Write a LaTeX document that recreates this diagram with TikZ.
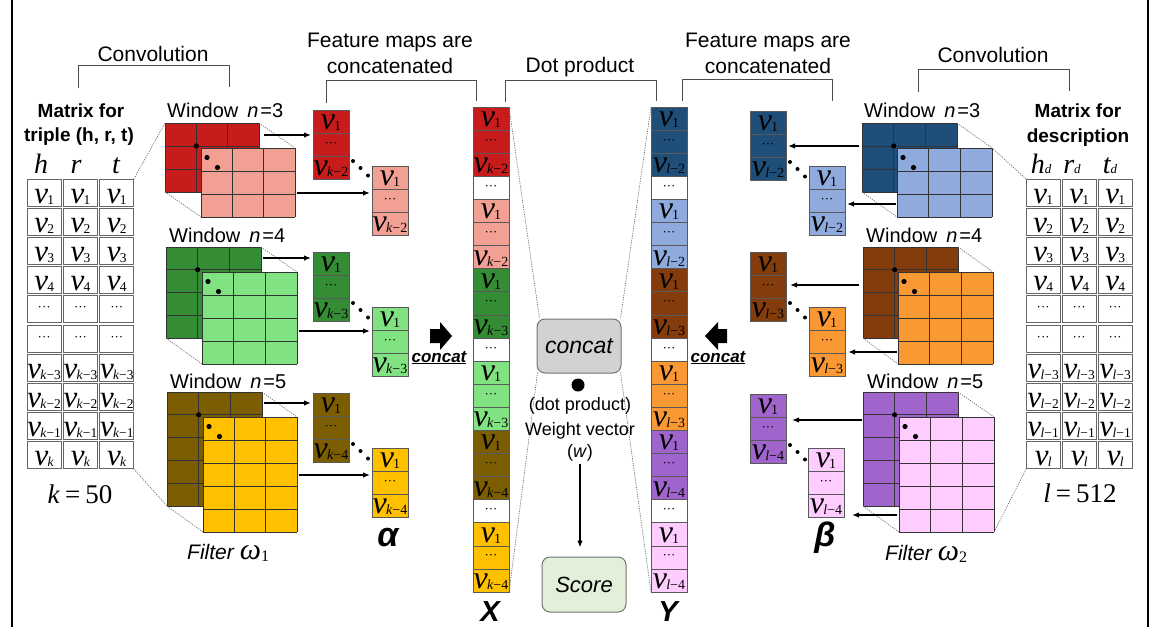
\documentclass[tikz,border=0pt]{standalone}
\usepackage{fontspec}
\setmainfont{Liberation Sans}
\newfontfamily\tnr{Liberation Serif}
\usetikzlibrary{arrows.meta,calc}
\definecolor{cRed}{RGB}{200,28,28}
\definecolor{cSalmon}{RGB}{242,160,148}
\definecolor{cGreen}{RGB}{52,140,52}
\definecolor{cLGreen}{RGB}{128,226,128}
\definecolor{cOlive}{RGB}{124,94,0}
\definecolor{cYellow}{RGB}{255,192,0}
\definecolor{cNavy}{RGB}{31,78,121}
\definecolor{cLBlue}{RGB}{143,170,220}
\definecolor{cBrown}{RGB}{132,60,12}
\definecolor{cOrange}{RGB}{250,152,52}
\definecolor{cPurple}{RGB}{160,100,205}
\definecolor{cPink}{RGB}{255,204,255}
\definecolor{cConcat}{RGB}{210,210,210}
\definecolor{cScore}{RGB}{226,240,217}
\newcommand{\vv}[1]{v\kern-0.8pt{\fontsize{14}{14}\selectfont\upshape\raisebox{-1pt}{#1}}}
\newcommand{\tv}[1]{v\kern-0.8pt{\fontsize{13.5}{13.5}\selectfont\upshape\raisebox{-1pt}{#1}}}
\tikzset{
  lbl/.style={font=\fontsize{21}{25}\selectfont, inner sep=0pt, anchor=base},
  blbl/.style={font=\bfseries\fontsize{19}{23}\selectfont, inner sep=0pt, anchor=base},
  wlbl/.style={font=\fontsize{20}{22}\selectfont, inner sep=0pt, anchor=base west},
  brk/.style={draw=black!70, line width=1pt},
  dotl/.style={draw=black!55, line width=0.7pt, dash pattern=on 1.2pt off 1.2pt},
  arr/.style={line width=1.3pt, -{Latex[length=7pt,width=5.5pt]}},
  gl/.style={draw=black!80, line width=0.8pt},
  wbox/.style={draw=none, inner sep=0pt, outer sep=0pt, anchor=north west},
  fcell/.style={draw=black!65, line width=0.8pt, minimum width=36pt, minimum height=23pt, inner sep=0pt, outer sep=0pt, anchor=north west},
  vtxt/.style={font=\tnr\itshape\fontsize{32}{32}\selectfont, inner sep=0pt, text height=16pt, text depth=0pt},
  tvtxt/.style={font=\tnr\itshape\fontsize{31}{31}\selectfont, inner sep=0pt, text height=21pt, text depth=0pt},
  dtxt/.style={font=\tnr\fontsize{13}{13}\selectfont, inner sep=0pt},
  tcell/.style={draw=black!60, line width=1pt, minimum width=34pt, minimum height=27pt, inner sep=0pt, outer sep=0pt},
  hdr/.style={font=\tnr\itshape\fontsize{28}{28}\selectfont, inner sep=0pt, anchor=base},
  rbox/.style={rounded corners=8pt, line width=1pt, minimum width=84pt, inner sep=0pt},
}
\newcommand{\win}[8]{%
  \node[wbox,fill=#8,minimum width={#4*#6},minimum height={#5*#7}] (#1) at (#2,#3) {};
  \foreach \i in {0,...,#4} \draw[gl] ({#2+\i*#6},#3) -- ({#2+\i*#6},{#3+#5*#7});
  \foreach \j in {0,...,#5} \draw[gl] (#2,{#3+\j*#7}) -- ({#2+#4*#6},{#3+\j*#7});
}
\newcommand{\wdot}[4]{\fill ({#1+#3},{#2+#4}) circle[radius=2.6pt];}
\newcommand{\fmap}[5]{%
  \node[fcell,fill=#4] (#1-1) at (#2,#3) {};
  \node[fcell,fill=#4] (#1-2) at (#2,{#3+23}) {};
  \node[fcell,fill=#4] (#1-3) at (#2,{#3+46}) {};
  \node[vtxt] (#1-t1) at (#1-1) {\vv{1}};
  \node[dtxt] (#1-t2) at (#1-2) {···};
  \node[vtxt] (#1-t3) at (#1-3) {\vv{#5}};
}
\newcommand{\fdots}[2]{%
  \fill ({#1+4},{#2-18}) circle[radius=2pt];
  \fill ({#1+11.5},{#2-11}) circle[radius=2pt];
  \fill ({#1+19},{#2-3.5}) circle[radius=2pt];
}
\begin{document}
\begin{tikzpicture}[x=1pt,y=-1pt]
\useasboundingbox (0,0) rectangle (1155,626);
\fill[white] (0,0) rectangle (1155,626);
% frame
\draw[line width=1.6pt] (12,-2) -- (12,628);
\draw[line width=1.6pt] (1148,-2) -- (1148,628);

% ---------- top labels and brackets ----------
\node[lbl] (convL) at (153,61) {Convolution};
\node[lbl] (convR) at (993,63) {Convolution};
\draw[brk] (78,88) -- (78,65) -- (229,65) -- (229,87);
\draw[brk] (918,92) -- (918,69) -- (1069,69) -- (1069,91);
\node[lbl] (fmL1) at (390,48) {Feature maps are};
\node[lbl] (fmL2) at (390,73) {concatenated};
\node[lbl] (fmR1) at (768,48) {Feature maps are};
\node[lbl] (fmR2) at (768,73) {concatenated};
\draw[brk] (326,103) -- (326,80) -- (476,80) -- (476,101);
\draw[brk] (682,101) -- (682,79) -- (832,79) -- (832,101);
\node[lbl] (dotp) at (580,72) {Dot product};
\draw[brk] (505,102) -- (505,80) -- (656,80) -- (656,101);

% ---------- left matrix ----------
\node[blbl] (mL1) at (81,117) {Matrix for};
\node[blbl] (mL2) at (79,141) {triple (h, r, t)};
\node[hdr] (hh) at (41,173) {h};
\node[hdr] (hr) at (76,173) {r};
\node[hdr] (ht) at (116,173) {t};
\foreach \kind/\lab [count=\r from 0] in {v/1,v/2,v/3,v/4,d/x,d/x,v/\textit{k}−3,v/\textit{k}−2,v/\textit{k}−1,v/\textit{k}}{
  \foreach \c in {0,1,2}{
    \node[tcell] (L\r-\c) at ({44.2+\c*36.3},{192.6+\r*29.2}) {};
    \if v\kind \node[tvtxt] (Lt\r-\c) at (L\r-\c) {\tv{\lab}};\else \node[dtxt] (Lt\r-\c) at (L\r-\c) {···};\fi
  }
}
\node[font=\tnr\fontsize{27}{27}\selectfont, anchor=base, inner sep=0pt] (kval) at (80,503) {\textit{k}\hspace{5pt}=\hspace{5pt}50};

% ---------- right matrix ----------
\node[blbl] (mR1) at (1078,117) {Matrix for};
\node[blbl] (mR2) at (1078,142) {description};
\node[hdr] (hhd) at (1041,173) {h{\fontsize{13}{13}\selectfont d}};
\node[hdr] (hrd) at (1072,173) {r{\fontsize{13}{13}\selectfont d}};
\node[hdr] (htd) at (1110,173) {t{\fontsize{13}{13}\selectfont d}};
\foreach \kind/\lab [count=\r from 0] in {v/1,v/2,v/3,v/4,d/x,d/x,v/\textit{l}−3,v/\textit{l}−2,v/\textit{l}−1,v/\textit{l}}{
  \foreach \c in {0,1,2}{
    \node[tcell] (R\r-\c) at ({1043.2+\c*36},{192.6+\r*29.2}) {};
    \if v\kind \node[tvtxt] (Rt\r-\c) at (R\r-\c) {\tv{\lab}};\else \node[dtxt] (Rt\r-\c) at (R\r-\c) {···};\fi
  }
}
\node[font=\tnr\fontsize{27}{27}\selectfont, anchor=base, inner sep=0pt] (lval) at (1080,502) {\textit{l}\hspace{5pt}=\hspace{5pt}512};

% ---------- left windows ----------
\node[wlbl] (wt3) at (167,117) {Window\hspace{9pt}\textit{n}\hspace{2pt}=3};
\win{wd3}{165}{123}{3}{3}{31.33}{23}{cRed}
\wdot{165}{123}{31.33}{23}
\win{wl3}{201}{148}{3}{3}{31.33}{23}{cSalmon}
\wdot{201}{148}{6}{9.5}\wdot{201}{148}{16.5}{19.5}

\node[wlbl] (wt4) at (169,242) {Window\hspace{9pt}\textit{n}\hspace{2pt}=4};
\win{wd4}{166}{247}{3}{4}{31.67}{22.75}{cGreen}
\wdot{166}{247}{31.67}{22.75}
\win{wl4}{202}{272}{3}{4}{31.67}{23}{cLGreen}
\wdot{202}{272}{6}{9.5}\wdot{202}{272}{16.5}{19.5}

\node[wlbl] (wt5) at (170,388) {Window\hspace{9pt}\textit{n}\hspace{2pt}=5};
\win{wd5}{167}{392}{3}{5}{31.67}{22.8}{cOlive}
\wdot{167}{392}{31.67}{22.8}
\win{wl5}{203}{417}{3}{5}{31.33}{23}{cYellow}
\wdot{203}{417}{6}{9.5}\wdot{203}{417}{16.5}{19.5}

% ---------- right windows ----------
\node[wlbl] (wt3r) at (864,117) {Window\hspace{9pt}\textit{n}\hspace{2pt}=3};
\win{wd3r}{862}{123}{3}{3}{31.67}{23}{cNavy}
\wdot{862}{123}{31.67}{23}
\win{wl3r}{897}{148}{3}{3}{31.67}{23}{cLBlue}
\wdot{897}{148}{6}{9.5}\wdot{897}{148}{16.5}{19.5}

\node[wlbl] (wt4r) at (866,242) {Window\hspace{9pt}\textit{n}\hspace{2pt}=4};
\win{wd4r}{863}{247}{3}{4}{31.67}{22.75}{cBrown}
\wdot{863}{247}{31.67}{22.75}
\win{wl4r}{898}{272}{3}{4}{31.67}{23}{cOrange}
\wdot{898}{272}{6}{9.5}\wdot{898}{272}{16.5}{19.5}

\node[wlbl] (wt5r) at (867,388) {Window\hspace{9pt}\textit{n}\hspace{2pt}=5};
\win{wd5r}{863}{392}{3}{5}{31.67}{22.8}{cPurple}
\wdot{863}{392}{31.67}{22.8}
\win{wl5r}{899}{417}{3}{5}{31.67}{23}{cPink}
\wdot{899}{417}{6}{9.5}\wdot{899}{417}{16.5}{19.5}

% perspective dotted lines
\draw[dotl] (L0-2.north east) -- (wd3.north west);
\draw[dotl] (L9-2.south east) -- (wd5.south west);
\draw[dotl] (R0-0.north west) -- (wl3r.north east);
\draw[dotl] (R9-0.south west) -- (wl5r.south east);
\foreach \p in {3,4,5}{
  \draw[dotl] (wd\p.north east) -- (wl\p.north east);
  \draw[dotl] (wd\p.south west) -- (wl\p.south west);
  \draw[dotl] (wd\p r.north east) -- (wl\p r.north east);
  \draw[dotl] (wd\p r.south west) -- (wl\p r.south west);
}

% ---------- feature maps ----------
\fmap{fr}{313}{110}{cRed}{\textit{k}−2}
\fmap{fs}{372}{166}{cSalmon}{\textit{k}−2}
\fmap{fg}{313}{252}{cGreen}{\textit{k}−3}
\fmap{flg}{372}{307}{cLGreen}{\textit{k}−3}
\fmap{fo}{313}{393}{cOlive}{\textit{k}−4}
\fmap{fy}{372}{448}{cYellow}{\textit{k}−4}
\fdots{349}{179}\fdots{349}{321}\fdots{349}{462}

\fmap{fn}{750}{111}{cNavy}{\textit{l}−2}
\fmap{fb}{809}{166}{cLBlue}{\textit{l}−2}
\fmap{fbr}{750}{252}{cBrown}{\textit{l}−3}
\fmap{fo2}{809}{307}{cOrange}{\textit{l}−3}
\fmap{fp}{750}{394}{cPurple}{\textit{l}−4}
\fmap{fpk}{808}{448}{cPink}{\textit{l}−4}
\fdots{786}{180}\fdots{786}{321}\fdots{786}{463}

% arrows windows -> feature maps
\draw[arr,shorten <=5pt,shorten >=2pt] (wd3.east |- 0,135) -- (fr-1.west |- 0,135);
\draw[arr,shorten <=2pt,shorten >=2pt] (wl3.east |- 0,193) -- (fs-2.west |- 0,193);
\draw[arr,shorten <=2pt,shorten >=2pt] (wd4.east |- 0,258) -- (fg-1.west |- 0,258);
\draw[arr,shorten <=2pt,shorten >=2pt] (wl4.east |- 0,331) -- (flg-2.west |- 0,331);
\draw[arr,shorten <=2pt,shorten >=2pt] (wd5.east |- 0,403) -- (fo-1.west |- 0,403);
\draw[arr,shorten <=2pt,shorten >=2pt] (wl5.east |- 0,475) -- (fy-2.west |- 0,475);
\draw[arr,shorten <=3pt,shorten >=2pt] (wd3r.west |- 0,146) -- (fn-2.east |- 0,146);
\draw[arr,shorten <=1pt,shorten >=2pt] (wl3r.west |- 0,204) -- (fb-2.east |- 0,204);
\draw[arr,shorten <=4pt,shorten >=4pt] (wd4r.west |- 0,285) -- (fbr-2.east |- 0,285);
\draw[arr,shorten <=1pt,shorten >=3pt] (wl4r.west |- 0,352) -- (fo2-2.east |- 0,352);
\draw[arr,shorten <=1pt,shorten >=6pt] (wd5r.west |- 0,420) -- (fp-2.east |- 0,420);
\draw[arr,shorten <=2pt,shorten >=8pt] (wl5r.west |- 0,515) -- (fpk-3.east |- 0,515);

% alpha / beta / filters
\node[font=\bfseries\itshape\fontsize{34}{34}\selectfont, inner sep=0pt, anchor=base] (alpha) at (388,546) {α};
\node[font=\bfseries\itshape\fontsize{34}{34}\selectfont, inner sep=0pt, anchor=base] (beta) at (825,546) {β};
\node[font=\itshape\fontsize{21}{21}\selectfont, inner sep=0pt, anchor=base west] (filt1) at (187,559) {Filter\hspace{6pt}{\tnr\fontsize{30}{30}\selectfont ω}{\tnr\upshape\fontsize{16}{16}\selectfont\raisebox{-2pt}{1}}};
\node[font=\itshape\fontsize{21}{21}\selectfont, inner sep=0pt, anchor=base west] (filt2) at (885,560) {Filter\hspace{6pt}{\tnr\fontsize{30}{30}\selectfont ω}{\tnr\upshape\fontsize{16}{16}\selectfont\raisebox{-2pt}{2}}};

% ---------- columns X and Y ----------
\foreach \col/\kind/\lab [count=\r from 0] in {cRed/v/1,cRed/d/x,cRed/v/\textit{k}−2,white/d/x,cSalmon/v/1,cSalmon/d/x,cSalmon/v/\textit{k}−2,cGreen/v/1,cGreen/d/x,cGreen/v/\textit{k}−3,white/d/x,cLGreen/v/1,cLGreen/d/x,cLGreen/v/\textit{k}−3,cOlive/v/1,cOlive/d/x,cOlive/v/\textit{k}−4,white/d/x,cYellow/v/1,cYellow/d/x,cYellow/v/\textit{k}−4}{
  \node[fcell,fill=\col,minimum height=23.1pt] (X\r) at (473,{107+\r*23.1}) {};
  \if v\kind \node[vtxt] (Xt\r) at (X\r) {\vv{\lab}};\else \node[dtxt] (Xt\r) at (X\r) {···};\fi
}
\foreach \col/\kind/\lab [count=\r from 0] in {cNavy/v/1,cNavy/d/x,cNavy/v/\textit{l}−2,white/d/x,cLBlue/v/1,cLBlue/d/x,cLBlue/v/\textit{l}−2,cBrown/v/1,cBrown/d/x,cBrown/v/\textit{l}−3,white/d/x,cOrange/v/1,cOrange/d/x,cOrange/v/\textit{l}−3,cPurple/v/1,cPurple/d/x,cPurple/v/\textit{l}−4,white/d/x,cPink/v/1,cPink/d/x,cPink/v/\textit{l}−4}{
  \node[fcell,fill=\col,minimum height=23.1pt] (Y\r) at (651,{107+\r*23.1}) {};
  \if v\kind \node[vtxt] (Yt\r) at (Y\r) {\vv{\lab}};\else \node[dtxt] (Yt\r) at (Y\r) {···};\fi
}
\node[font=\bfseries\itshape\fontsize{29}{29}\selectfont, inner sep=0pt, anchor=base] (Xl) at (490,621) {X};
\node[font=\bfseries\itshape\fontsize{29}{29}\selectfont, inner sep=0pt, anchor=base] (Yl) at (668,621) {Y};

% ---------- centre ----------
\node[rbox, draw=black!55, fill=cConcat, minimum height=54pt, font=\itshape\fontsize{23}{23}\selectfont] (cc) at (579,346) {concat};
\node[rbox, draw=black!55, fill=cScore, minimum width=84pt, minimum height=55pt, font=\itshape\fontsize{22}{22}\selectfont] (sc) at (584,584.5) {Score};
\draw[dotl] (X0.north east) -- ($(cc.north west)+(3,0)$);
\draw[dotl] ($(cc.south west)+(1,-1)$) -- (X20.south east);
\draw[dotl] (Y0.north west) -- ($(cc.north east)+(-1,0)$);
\draw[dotl] ($(cc.south east)+(-1,-1)$) -- (Y20.south west);
\fill (578,385) circle[radius=6.5pt];
\node[font=\fontsize{18}{18}\selectfont, inner sep=0pt, anchor=base] (dp) at (580,410) {(dot product)};
\node[font=\fontsize{18}{18}\selectfont, inner sep=0pt, anchor=base] (wv) at (580,435) {Weight vector};
\node[font=\fontsize{18}{18}\selectfont, inner sep=0pt, anchor=base] (ww) at (580,457) {(\textit{w})};
\draw[arr,shorten <=3pt,shorten >=9pt] (ww.south) -- (ww.south |- sc.north);

% concat block arrows
\fill (430,329) -- (440,329) -- (440,322) -- (452,336) -- (440,350) -- (440,343) -- (430,343) -- cycle;
\fill (727,329) -- (718,329) -- (718,322) -- (705,336) -- (718,350) -- (718,343) -- (727,343) -- cycle;
\node[font=\bfseries\itshape\fontsize{17}{17}\selectfont, inner sep=0pt, anchor=base] (ccL) at (439,362) {\underline{concat}};
\node[font=\bfseries\itshape\fontsize{17}{17}\selectfont, inner sep=0pt, anchor=base] (ccR) at (718,362) {\underline{concat}};
\end{tikzpicture}
\end{document}
